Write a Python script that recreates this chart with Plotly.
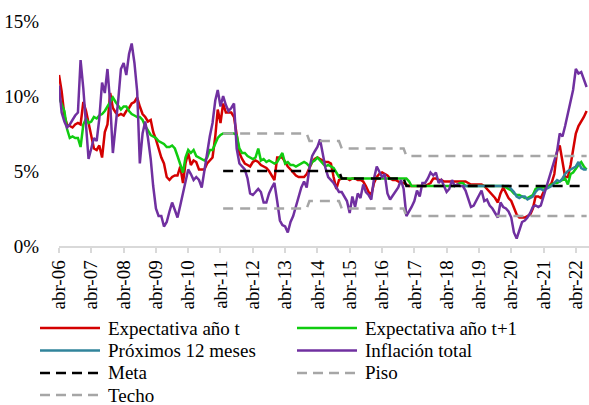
import pandas as pd
import plotly.graph_objects as go

# Monthly series, starting April 2006 (percent)
inflacion_total = [
    10.7, 8.9, 8.3, 7.9, 8.1, 8.4, 8.7, 8.9, 12.4, 10.5,
    8.0, 5.8, 6.5, 7.2, 7.0, 8.5, 10.9, 10.2, 11.8, 9.5,
    6.2, 7.8, 9.8, 11.8, 12.2, 11.4, 12.8, 13.5, 12.2, 10.3,
    5.5, 7.5, 8.3, 7.2, 5.8, 4.0, 2.5, 2.0, 2.0, 1.3,
    1.6, 2.3, 2.9, 2.4, 1.9, 2.7, 3.5, 4.3, 5.1, 4.8,
    4.4, 4.6, 4.4, 3.9, 5.0, 6.3, 7.3, 8.2, 9.7, 10.4,
    9.3, 10.0, 9.4, 9.0, 9.2, 9.5, 6.5, 5.5, 5.3, 5.1,
    4.5, 3.5, 3.4, 3.6, 3.8, 3.6, 2.9, 2.9, 3.5, 3.9,
    4.2, 3.0, 1.7, 1.4, 1.3, 0.9, 1.6, 2.0, 2.6, 3.3,
    3.9, 4.3, 3.9, 5.2, 6.0, 6.3, 6.6, 7.1, 6.2, 5.2,
    4.6, 4.4, 4.2, 3.9, 3.6, 3.6, 3.3, 3.0, 2.2, 3.3,
    2.6, 3.5, 3.2, 4.1, 3.6, 3.4, 3.1, 4.5, 5.3, 5.0,
    4.6, 4.8, 3.5, 3.1, 3.4, 3.7, 3.9, 4.4, 3.8, 2.0,
    2.3, 2.6, 3.0, 3.7, 3.3, 4.2, 4.2, 4.5, 4.9, 4.7,
    4.9, 4.2, 4.4, 4.0, 3.6, 3.8, 4.4, 4.0, 4.1, 4.0,
    4.0, 3.7, 3.2, 2.6, 2.7, 3.0, 3.3, 3.7, 3.0, 3.1,
    2.7, 2.5, 2.2, 1.9, 2.9, 2.6, 2.5, 2.3, 1.9, 0.9,
    0.5, 1.0, 1.6, 1.7, 1.9, 2.2, 2.6, 2.7, 2.6, 2.7,
    3.3, 4.0, 4.6, 5.2, 5.8, 6.3, 7.5, 7.3, 8.0, 8.8,
    9.6, 10.4, 11.8, 11.5, 11.6, 11.1, 10.6,
]

expectativa_t = [
    11.4, 10.3, 8.7, 8.1, 8.0, 7.9, 8.1, 8.2, 8.1, 9.6,
    9.0, 8.2, 7.2, 6.5, 6.4, 6.7, 5.9, 7.6, 8.1, 10.2,
    9.2, 8.9, 8.7, 8.8, 8.7, 9.0, 9.2, 9.5, 9.6, 9.9,
    9.3, 8.8, 8.6, 8.3, 8.4, 7.6, 7.1, 6.5, 5.9, 5.5,
    4.6, 4.4, 4.6, 4.7, 4.7, 5.3, 4.2, 5.5, 6.2, 5.4,
    5.7, 5.6, 5.1, 5.1, 5.1, 5.5, 5.7, 5.9, 7.3, 9.1,
    8.2, 9.5, 8.9, 8.9, 8.9, 8.6, 7.5, 6.2, 5.8, 5.5,
    5.4, 5.3, 5.6, 5.7, 5.6, 5.4, 5.3, 5.2, 5.0, 4.7,
    4.4, 5.9, 5.9, 5.9, 5.6, 5.3, 5.1, 4.9, 4.7, 4.6,
    4.6, 4.6, 4.8, 5.2, 5.6, 5.8, 5.9, 5.8, 5.7, 5.6,
    5.6, 5.5, 4.6, 3.8, 4.4, 4.5, 4.5, 4.5, 4.4, 4.5,
    4.5, 4.4, 4.4, 4.3, 4.0, 3.6, 3.4, 4.2, 4.6, 4.8,
    4.9, 4.8, 4.7, 4.5, 4.4, 4.4, 4.3, 4.2, 4.2, 4.1,
    4.0, 4.0, 4.0, 4.0, 4.0, 4.0, 4.0, 4.1, 4.2, 4.5,
    4.5, 4.4, 4.4, 4.3, 4.3, 4.3, 4.3, 4.3, 4.3, 4.3,
    4.3, 4.3, 4.2, 4.1, 4.1, 4.1, 4.1, 4.1, 4.0, 3.8,
    3.6, 3.4, 3.2, 2.9, 3.5, 3.9, 3.5, 3.2, 3.0, 2.5,
    2.1, 1.9, 1.9, 1.9, 2.0, 2.1, 2.5, 3.3, 3.3, 3.2,
    3.6, 3.9, 4.0, 4.2, 4.8, 6.3, 6.7, 5.5, 4.6, 4.6,
    5.4, 6.4, 7.5, 8.0, 8.3, 8.6, 9.0,
]

expectativa_t1 = [
    9.9, 9.4, 9.0, 7.8, 7.2, 7.3, 7.2, 7.2, 6.6, 8.1,
    8.5, 8.2, 8.3, 8.6, 8.5, 8.7, 8.8, 9.0, 9.3, 9.6,
    9.9, 9.6, 9.3, 9.1, 9.3, 9.3, 9.0, 8.8, 8.7, 8.6,
    8.6, 8.4, 8.0, 7.7, 7.4, 7.3, 7.2, 7.0, 6.9, 6.8,
    6.6, 6.6, 6.7, 6.5, 6.0, 5.5, 4.9, 5.9, 6.4, 6.2,
    6.4, 6.0, 5.9, 5.8, 5.7, 5.9, 6.4, 6.4, 6.8, 7.2,
    7.4, 7.5, 7.5, 7.5, 7.5, 7.5, 7.4, 6.5, 6.2, 6.2,
    6.0, 5.9, 5.8, 5.9, 6.5, 5.7, 5.8, 5.6, 5.7, 5.6,
    5.5, 5.6, 5.9, 6.2, 5.5, 5.6, 5.4, 5.4, 5.3, 5.4,
    5.5, 5.6, 5.5, 5.3, 5.6, 5.7, 5.9, 5.7, 5.5, 5.3,
    5.4, 5.3, 5.2, 4.9, 4.6, 4.5, 4.5, 4.5, 4.5, 4.5,
    4.5, 4.5, 4.5, 4.5, 4.5, 4.5, 4.5, 4.5, 4.5, 4.5,
    4.5, 4.5, 4.5, 4.5, 4.5, 4.5, 4.5, 4.5, 4.5, 4.5,
    4.3, 4.0, 4.0, 4.0, 4.0, 4.0, 4.0, 4.0, 4.0, 4.0,
    4.0, 4.0, 4.0, 4.0, 4.0, 4.0, 4.0, 4.0, 4.1, 4.2,
    4.2, 4.0, 4.0, 4.0, 4.0, 4.0, 4.0, 4.0, 4.0, 4.0,
    4.0, 4.0, 4.0, 4.0, 4.0, 4.0, 3.9, 3.8, 3.7, 3.5,
    3.4, 3.4, 3.3, 3.2, 3.2, 3.3, 3.4, 3.8, 3.9, 3.9,
    3.9, 4.0, 4.0, 4.1, 4.2, 4.2, 4.3, 4.4, 4.5, 4.1,
    4.8, 4.9, 5.2, 5.4, 5.6, 5.3, 5.1,
]

# starts October 2018
proximos_12 = [
    4.0, 4.0, 4.0, 4.0, 4.0, 4.0, 4.0, 4.0, 4.0, 4.0,
    4.0, 4.0, 4.0, 4.0, 4.0, 4.0, 4.0, 4.0, 3.8, 3.6,
    3.3, 3.2, 3.3, 3.3, 3.1, 3.2, 3.3, 3.6, 3.8, 3.8,
    3.7, 3.8, 3.9, 4.0, 4.2, 4.4, 4.3, 4.5, 4.8, 5.0,
    5.1, 5.2, 5.3, 5.6, 5.2, 5.1, 5.1,
]

# target band (step vertices)
banda_fechas = ["2011-05-01", "2013-12-01", "2014-01-01", "2014-12-01",
                "2015-01-01", "2016-12-01", "2017-01-01", "2022-08-01"]
meta = [5.0, 5.0, 5.0, 5.0, 4.5, 4.5, 4.0, 4.0]
piso = [2.5, 2.5, 3.0, 3.0, 2.5, 2.5, 2.0, 2.0]
techo = [7.5, 7.5, 7.0, 7.0, 6.5, 6.5, 6.0, 6.0]

tick_fechas = [f"{y}-04-01" for y in range(2006, 2023)]
tick_labels = ["abr-06", "abr-07", "abr-08", "abr-09", "abr-10", "abr-11",
               "abr-12", "abr-13", "abr-14", "abr-15", "abr-16", "abr-17",
               "abr-18", "abr-19", "abr-20", "abr-21", "abr-22"]
y_ticks = [0, 5, 10, 15]
y_labels = ["0%", "5%", "10%", "15%"]

meses = pd.date_range("2006-04-01", periods=len(inflacion_total), freq="MS")
meses_12 = pd.date_range("2018-10-01", periods=len(proximos_12), freq="MS")

RED = "#D40000"
GREEN = "#10CC10"
TEAL = "#31849B"
PURPLE = "#7030A0"
GRAY = "#A6A6A6"
FONT = "Liberation Serif, Times New Roman, DejaVu Serif, serif"
DASH = "10px,7px"

fig = go.Figure()
fig.add_trace(go.Scatter(x=meses, y=expectativa_t, name="Expectativa año t",
                         mode="lines", line=dict(color=RED, width=2.5)))
fig.add_trace(go.Scatter(x=meses, y=expectativa_t1, name="Expectativa año t+1",
                         mode="lines", line=dict(color=GREEN, width=2.5)))
fig.add_trace(go.Scatter(x=meses_12, y=proximos_12, name="Próximos 12 meses",
                         mode="lines", line=dict(color=TEAL, width=2.5)))
fig.add_trace(go.Scatter(x=meses, y=inflacion_total, name="Inflación total",
                         mode="lines", line=dict(color=PURPLE, width=2.5)))
fig.add_trace(go.Scatter(x=banda_fechas, y=meta, name="Meta", mode="lines",
                         line=dict(color="black", width=2.5, dash=DASH)))
fig.add_trace(go.Scatter(x=banda_fechas, y=piso, name="Piso", mode="lines",
                         line=dict(color=GRAY, width=2.5, dash=DASH)))
fig.add_trace(go.Scatter(x=banda_fechas, y=techo, name="Techo", mode="lines",
                         line=dict(color=GRAY, width=2.5, dash=DASH)))

# Legend drawn by hand so the sample lines are long like the original
L, T, W, H = 59, 21, 530, 225
def px_x(v):
    return (v - L) / W
def px_y(v):
    return (T + H - v) / H

legend_items = [
    ("Expectativa año t", RED, "solid", 40, 328),
    ("Expectativa año t+1", GREEN, "solid", 297, 328),
    ("Próximos 12 meses", TEAL, "solid", 40, 350.5),
    ("Inflación total", PURPLE, "solid", 297, 350.5),
    ("Meta", "black", "10px,6px", 40, 373),
    ("Piso", GRAY, "10px,6px", 297, 373),
    ("Techo", GRAY, "10px,6px", 40, 395),
]
for label, color, dash, x0, y0 in legend_items:
    fig.add_shape(type="line", xref="paper", yref="paper",
                  x0=px_x(x0), x1=px_x(x0 + 60), y0=px_y(y0), y1=px_y(y0),
                  line=dict(color=color, width=2.5, dash=dash))
    fig.add_annotation(x=px_x(x0 + 66), y=px_y(y0), xref="paper", yref="paper",
                       text=label, showarrow=False, xanchor="left", yanchor="middle",
                       font=dict(family=FONT, size=19, color="black"))

fig.update_layout(
    width=589, height=405,
    margin=dict(l=L, r=0, t=T, b=405 - T - H),
    plot_bgcolor="white", paper_bgcolor="white",
    showlegend=False,
    font=dict(family=FONT, size=19, color="black"),
)
fig.update_xaxes(
    range=["2006-04-01", "2022-08-28"],
    tickvals=tick_fechas, ticktext=tick_labels, tickangle=-90,
    showgrid=False, zeroline=False,
    showline=True, linecolor="#D9D9D9", linewidth=1.5,
    ticks="outside", ticklen=5, tickwidth=1.5, tickcolor="#D9D9D9",
)
fig.update_yaxes(
    range=[0, 15], tickvals=y_ticks, ticktext=y_labels,
    showgrid=False, zeroline=False, showline=False,
    ticks="outside", ticklen=15, tickcolor="rgba(0,0,0,0)",
)

# the page's default body margin would shift the 589x405 figure
fig.write_html("out.html", config={"displayModeBar": False},
               post_script="document.body.style.margin='0';")
